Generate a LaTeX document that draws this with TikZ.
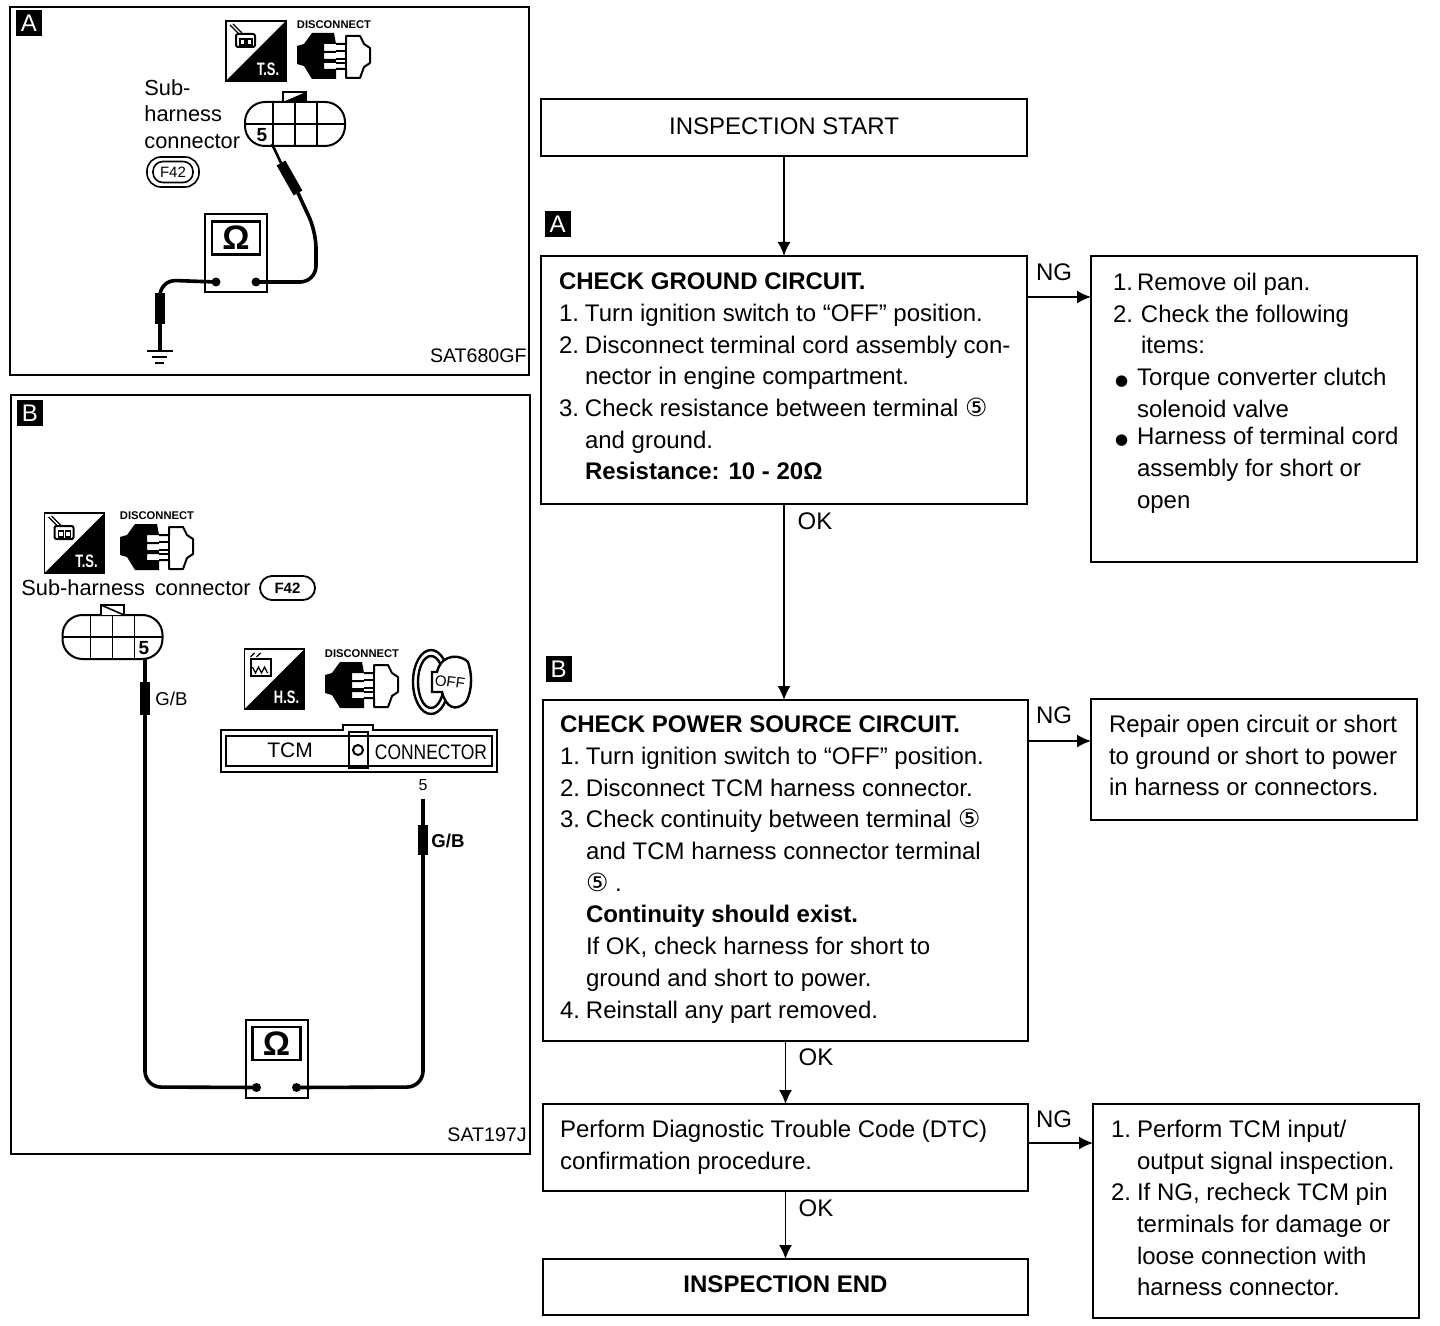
\documentclass[tikz,border=0pt]{standalone}
\usepackage{fontspec}
\setmainfont{Liberation Sans}
\newfontfamily\symfont{DejaVu Sans}
\usetikzlibrary{positioning,arrows.meta}
\newcommand{\flowfont}{\fontsize{12}{15.85}\selectfont}
\newcommand{\cfive}{{\symfont\fontsize{12.5}{12.5}\selectfont ⑤}}
\newcommand{\lab}[1]{\makebox[13pt][l]{#1}}
\newcommand{\labb}[1]{\makebox[12pt][l]{#1}}
\newcommand{\bul}{\makebox[12pt][l]{\hspace{1pt}{\symfont\fontsize{7.5}{7.5}\selectfont ●}}}
\newcommand{\boxtxt}[3]{\parbox[c][#2][t]{#1}{\flowfont\vspace*{8pt}#3}}
\tikzset{
  flowbox/.style={draw, line width=0.75pt, inner sep=0pt, outer sep=0pt, align=left},
  flowarrow/.style={line width=0.8pt, -{Latex[length=7pt,width=6.5pt]}},
  panel/.style={draw, line width=1pt, inner sep=0pt, outer sep=0pt},
  badge/.style={fill=black, text=white, inner sep=0pt, minimum size=13pt, font=\fontsize{12}{12}\selectfont},
  flag/.style={font=\flowfont, inner sep=0pt},
  capt/.style={font=\fontsize{10.9}{13.3}\selectfont, inner sep=0pt},
  codetxt/.style={font=\fontsize{9.8}{12}\selectfont, inner sep=0pt},
  wire/.style={line width=1.8pt, line join=round},
  sleeve/.style={line width=5pt},
  pics/halfbox/.style={code={
    \fill (30,-30) -- (30,30) -- (-30,30) -- cycle;
    \draw[line width=0.9pt] (-30,-30) rectangle (30,30);
    \node[inner sep=0pt, text=white, font=\bfseries\fontsize{9}{9}\selectfont] (-lbl) at (12,18) {\scalebox{0.72}[1]{#1}};
  }},
  pics/tsicon/.style={code={
    \pic (-sq) {halfbox=T.S.};
    \draw[line width=0.7pt] (-26,-26) -- (-17,-17) (-23,-27) -- (-14,-18);
    \draw[line width=1pt, fill=white, rounded corners=1pt] (-20,-17) rectangle (-1,-4);
    \draw[line width=0.7pt] (-16,-12) rectangle (-11,-6) (-9,-12) rectangle (-4,-6);
  }},
  pics/hsicon/.style={code={
    \pic (-sq) {halfbox=H.S.};
    \draw[line width=0.7pt] (-24,-22) -- (-20,-26) (-18,-22) -- (-14,-26);
    \draw[line width=1pt, fill=white] (-24,-20) rectangle (-4,-3);
    \draw[line width=0.6pt] (-22,-12) -- (-19,-6) -- (-16,-12) -- (-13,-6) -- (-10,-12) -- (-7,-6);
  }},
  pics/disconn/.style={code={
    \node[inner sep=0pt, font=\bfseries\fontsize{5.6}{6}\selectfont] (-lbl) at (0,-31) {DISCONNECT};
    \fill (0,-23) -- (-22,-23) -- (-30,-12) -- (-37,-10) -- (-37,8) -- (-30,10) -- (-22,23) -- (2,23)
      -- (2,13) -- (-10,13) -- (-10,7) -- (2,7) -- (2,3) -- (-10,3) -- (-10,-3) -- (2,-3) -- (2,-5)
      -- (-10,-5) -- (-10,-12) -- (2,-12) -- cycle;
    \draw[line width=1pt, line join=round] (2,-12) -- (12,-12) -- (12,-20) -- (26,-20) -- (30,-12)
      -- (36,-8) -- (36,7) -- (30,11) -- (26,22) -- (12,22) -- (12,13) -- (2,13);
    \draw[line width=1pt] (2,-5) -- (12,-5) (2,3) -- (12,3) (2,7) -- (12,7) (12,-12) -- (12,13);
  }},
  pics/subconn/.style={code={
    \draw[line width=1pt, rounded corners=10pt] (-50,-22) rectangle (50,22);
    \draw[line width=0.9pt] (-50,0) -- (50,0) (-22,-22) -- (-22,22) (0,-22) -- (0,22) (22,-22) -- (22,22);
  }},
  pics/ohmmeter/.style={code={
    \draw[line width=1pt, fill=white] (-31,-39) rectangle (31,39);
    \node[draw, line width=1.3pt, inner sep=0pt, minimum width=24pt, minimum height=16.5pt,
      font=\bfseries\fontsize{17}{17}\selectfont] (-scr) at (0,-15) {Ω};
    \fill (-20,29) circle (4.5);
    \fill (20,29) circle (4.5);
    \coordinate (-pl) at (-20,29);
    \coordinate (-pr) at (20,29);
  }},
}
\begin{document}
\begin{tikzpicture}[x=0.5pt, y=-0.5pt]
  \useasboundingbox (0,0) rectangle (1440,1326);

  %--- Panel A ---
  \node[panel, anchor=north west, minimum width=259.5pt, minimum height=184pt] (panA) at (10,7) {};
  \node[badge] (badgeA) at (29,23.5) {A};
  \pic (tsA) at (256,51) {tsicon};
  \pic (discA) at (334,56) {disconn};
  \node[capt, align=left, anchor=north west] (subA) at (144,79) {Sub-\\harness\\connector};
  \node[draw, line width=0.8pt, rounded corners=7pt, minimum width=26pt, minimum height=15pt, inner sep=0pt] (fA) at (173,172) {};
  \node[draw, line width=0.8pt, rounded corners=5pt, minimum width=20pt, minimum height=10.5pt, inner sep=0pt, font=\fontsize{7.5}{8}\selectfont] (fAin) at (173,172) {F42};
  \draw[line width=1pt, fill=white] (283,102) -- (283,92) -- (306,92) -- (306,102);
  \fill (283,102) -- (306,92) -- (306,102) -- cycle;
  \pic (cnA) at (295,124) {subconn};
  \node[inner sep=0pt, font=\bfseries\fontsize{9.5}{10}\selectfont] (fiveA) at (262,135) {5};
  \pic (mtrA) at (236,253) {ohmmeter};
  \coordinate (pinA) at (272,144);
  \coordinate (gndA) at (160,350);
  \draw[wire, line width=1.3pt] (pinA) -- (281,163);
  \draw[sleeve] (281,163) -- (298,193);
  \draw[wire, rounded corners=8pt] (298,193) -- (316,232) -- (316,282) -- (mtrA-pr);
  \draw[wire, rounded corners=8pt] (mtrA-pl) -- (160,280) -- (160,293);
  \draw[sleeve] (160,293) -- (160,324);
  \draw[wire] (160,324) -- (gndA);
  \draw[line width=1.3pt] (147,351) -- (173,351);
  \draw[line width=1.3pt] (152,357) -- (167,357);
  \draw[line width=1.3pt] (155,363) -- (164,363);
  \node[codetxt, anchor=east] (codeA) at (527,356) {SAT680GF};

  %--- Panel B ---
  \node[panel, anchor=north west, minimum width=259.5pt, minimum height=379.5pt] (panB) at (11,395) {};
  \node[badge] (badgeB) at (30,413.5) {B};
  \pic (tsB) at (74.5,543) {tsicon};
  \pic (discB) at (157,547) {disconn};
  \node[capt, anchor=west] (subB) at (21,588) {Sub-harness\hspace{2pt} connector};
  \node[draw, line width=0.9pt, rounded corners=6pt, minimum width=27.5pt, minimum height=12pt, inner sep=0pt, font=\bfseries\fontsize{7.5}{8}\selectfont] (fB) at (287.5,588) {F42};
  \pic (cnB) at (112.5,637) {subconn};
  \draw[line width=1pt, fill=white] (101,615) -- (101,605) -- (124,605) -- (124,615);
  \draw[line width=0.8pt] (101,605) -- (124,615);
  \node[inner sep=0pt, font=\bfseries\fontsize{9.5}{10}\selectfont] (fiveB) at (144,648) {5};
  \pic (mtrB) at (276.5,1058.5) {ohmmeter};
  \coordinate (pinB) at (145,659);
  \coordinate (pinC) at (423,799);
  \draw[wire] (pinB) -- (145,682);
  \draw[sleeve] (145,682) -- (145,715);
  \draw[wire, rounded corners=8pt] (145,715) -- (145,1087) -- (mtrB-pl);
  \draw[wire] (pinC) -- (423,825);
  \draw[sleeve] (423,825) -- (423,855);
  \draw[wire, rounded corners=8pt] (423,855) -- (423,1087) -- (mtrB-pr);
  \node[capt, anchor=west, font=\fontsize{9.3}{10}\selectfont] (gbA) at (155,699) {G/B};
  \node[capt, anchor=west, font=\bfseries\fontsize{9.3}{10}\selectfont] (gbB) at (431,841) {G/B};
  \pic (hsB) at (274.5,679) {hsicon};
  \pic (discC) at (362,685) {disconn};
  %--- key ---
  \draw[line width=1.2pt] (431,682) ellipse (18 and 32);
  \draw[line width=1.2pt] (431,682) ellipse (13 and 26);
  \draw[line width=1.2pt, fill=white] (432,672) -- (437,672) .. controls (442,652) and (462,655) .. (468,662)
    .. controls (474,680) and (470,695) .. (466,702) .. controls (456,712) and (446,708) .. (442,692) -- (432,692) -- cycle;
  \node[inner sep=0pt, rotate=-8, font=\fontsize{7.5}{8}\selectfont] (keyoff) at (450,682) {OFF};
  %--- TCM connector ---
  \draw[line width=1.2pt] (221,730) -- (343,730) -- (343,725) -- (373,725) -- (373,730) -- (497,730) -- (497,772) -- (221,772) -- cycle;
  \draw[line width=1pt] (226,736) rectangle (492,766);
  \draw[line width=1pt] (349,732) rectangle (368,768);
  \node[draw, circle, line width=1pt, minimum size=5pt, inner sep=0pt] (tcmhole) at (358,750) {};
  \node[capt, font=\fontsize{10.5}{11}\selectfont] (tcmtxt) at (290,750) {TCM};
  \node[capt, font=\fontsize{10.5}{11}\selectfont] (contxt) at (431,752) {\scalebox{0.83}[1]{CONNECTOR}};
  \node[inner sep=0pt, font=\fontsize{8}{9}\selectfont] (fiveC) at (423,785) {5};
  \node[codetxt, anchor=east] (codeB) at (527,1135) {SAT197J};

  %--- Flow chart boxes ---
  \node[flowbox, minimum width=243pt, minimum height=28.5pt, font=\flowfont] (startbox) at (784,127.5) {\raisebox{1.5pt}{INSPECTION START}};
  \node[badge] (markA) at (557.5,224.5) {A};
  \node[flowbox, anchor=north west] (chkA) at (541,256) {\hspace{9pt}\boxtxt{234pt}{124pt}{%
    \vspace*{0.5pt}\textbf{CHECK GROUND CIRCUIT.}\\
    \lab{1.}Turn ignition switch to “OFF” position.\\
    \lab{2.}Disconnect terminal cord assembly con-\\
    \lab{}nector in engine compartment.\\
    \lab{3.}Check resistance between terminal \cfive\\
    \lab{}and ground.\\
    \lab{}\textbf{Resistance: 10 - 20Ω}}};
  \node[flowbox, anchor=north west] (fixA) at (1091,256) {\hspace{11pt}\boxtxt{152pt}{153pt}{%
    \vspace*{0.5pt}\labb{1.}Remove oil pan.\\
    \labb{2.}\hspace{2pt}Check the following\\
    \labb{}\hspace{2pt}items:\\
    \bul Torque converter clutch\\
    \hspace*{12pt}solenoid valve\\[-2pt]
    \bul Harness of terminal cord\\
    \hspace*{12pt}assembly for short or\\
    \hspace*{12pt}open}};
  \node[badge] (markB) at (558.5,669) {B};
  \node[flowbox, anchor=north west] (chkB) at (543,700) {\hspace{8.5pt}\boxtxt{234pt}{170.5pt}{%
    \textbf{CHECK POWER SOURCE CIRCUIT.}\\
    \lab{1.}Turn ignition switch to “OFF” position.\\
    \lab{2.}Disconnect TCM harness connector.\\
    \lab{3.}Check continuity between terminal \cfive\\
    \lab{}and TCM harness connector terminal\\
    \lab{}\cfive\ .\\
    \lab{}\textbf{Continuity should exist.}\\
    \lab{}If OK, check harness for short to\\
    \lab{}ground and short to power.\\
    \lab{4.}Reinstall any part removed.}};
  \node[flowbox, anchor=north west] (fixB) at (1091,699) {\hspace{9pt}\boxtxt{154pt}{60.5pt}{%
    Repair open circuit or short\\
    to ground or short to power\\
    in harness or connectors.}};
  \node[flowbox, anchor=north west] (dtc) at (543,1104) {\hspace{8.5pt}\boxtxt{234pt}{43.5pt}{%
    Perform Diagnostic Trouble Code (DTC)\\
    confirmation procedure.}};
  \node[flowbox, anchor=north west] (fixC) at (1093,1104) {\hspace{9pt}\boxtxt{154pt}{107pt}{%
    \lab{1.}Perform TCM input/\\
    \lab{}output signal inspection.\\
    \lab{2.}If NG, recheck TCM pin\\
    \lab{}terminals for damage or\\
    \lab{}loose connection with\\
    \lab{}harness connector.}};
  \node[flowbox, minimum width=242.5pt, minimum height=28pt, font=\flowfont\bfseries] (endbox) at (785.5,1287) {\raisebox{2.5pt}{INSPECTION END}};

  %--- Connectors ---
  \coordinate (ngA) at (0,297);
  \coordinate (ngB) at (0,741);
  \coordinate (ngC) at (0,1143);
  \draw[flowarrow] (startbox.south) -- (startbox.south |- chkA.north);
  \draw[flowarrow] (startbox.south |- chkA.south) -- (startbox.south |- chkB.north);
  \draw[flowarrow] (endbox.north |- chkB.south) -- (endbox.north |- dtc.north);
  \draw[flowarrow] (endbox.north |- dtc.south) -- (endbox.north);
  \draw[flowarrow] (chkA.east |- ngA) -- (fixA.west |- ngA);
  \draw[flowarrow] (chkB.east |- ngB) -- (fixB.west |- ngB);
  \draw[flowarrow] (dtc.east |- ngC) -- (fixC.west |- ngC);

  %--- Flags ---
  \node[flag] (ngtxtA) at (1054,272) {NG};
  \node[flag] (oktxtA) at (815,521) {OK};
  \node[flag] (ngtxtB) at (1054,715) {NG};
  \node[flag] (oktxtB) at (816,1057) {OK};
  \node[flag] (ngtxtC) at (1054,1119) {NG};
  \node[flag] (oktxtC) at (816,1208) {OK};
\end{tikzpicture}
\end{document}
